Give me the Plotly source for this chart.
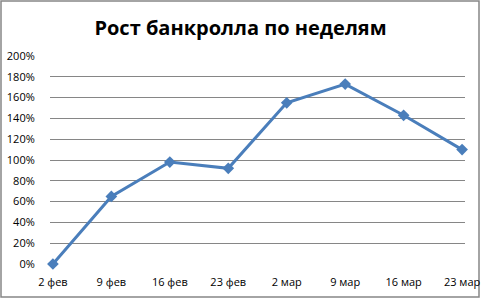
import plotly.graph_objects as go

categories = ["2 фев", "9 фев", "16 фев", "23 фев", "2 мар", "9 мар", "16 мар", "23 мар"]
values = [0.0, 0.65, 0.98, 0.92, 1.55, 1.73, 1.43, 1.10]
y_ticks = [0, 0.2, 0.4, 0.6, 0.8, 1.0, 1.2, 1.4, 1.6, 1.8, 2.0]
y_tick_labels = ["0%", "20%", "40%", "60%", "80%", "100%", "120%", "140%", "160%", "180%", "200%"]
title = "Рост банкролла по неделям"

L, R, T, B = 50, 16, 56, 35
W, H = 481, 299
pw, ph = W - L - R, H - T - B

fig = go.Figure()
fig.add_trace(go.Scatter(
    x=list(range(len(categories))), y=values, mode="lines+markers",
    line=dict(color="#4A7EBB", width=3),
    marker=dict(symbol="diamond", size=9, color="#4A7EBB"),
    cliponaxis=False, showlegend=False,
))

fig.update_layout(
    width=W, height=H,
    margin=dict(l=L, r=R, t=T, b=B),
    paper_bgcolor="white", plot_bgcolor="white",
    font=dict(family="Open Sans, Liberation Sans, sans-serif", size=11, color="#000000"),
    title=dict(text="<b>" + title + "</b>", x=0.5, xanchor="center", y=1 - 28 / H, yanchor="middle",
               font=dict(size=20, color="#000000", family="Open Sans, sans-serif")),
    xaxis=dict(
        tickmode="array", tickvals=list(range(len(categories))), ticktext=categories,
        range=[-0.05, len(categories) - 1 + 0.05], showgrid=False, zeroline=False,
        showline=False, ticks="outside", ticklen=8, tickcolor="rgba(0,0,0,0)",
        tickfont=dict(size=11), automargin=False,
    ),
    yaxis=dict(
        tickmode="array", tickvals=y_ticks, ticktext=y_tick_labels, range=[0, 2.0],
        showgrid=True, gridcolor="#868686", gridwidth=1, zeroline=False, showline=False,
        ticks="outside", ticklen=12, tickcolor="rgba(0,0,0,0)", tickfont=dict(size=11),
        automargin=False,
    ),
    shapes=[dict(
        type="rect", xref="paper", yref="paper",
        x0=(1 - L) / pw, x1=(479 - L) / pw, y0=(T + ph - 297) / ph, y1=(T + ph - 1) / ph,
        line=dict(color="#868686", width=1.5), fillcolor="rgba(0,0,0,0)", layer="below",
    )],
)

fig.write_html("out.html")
